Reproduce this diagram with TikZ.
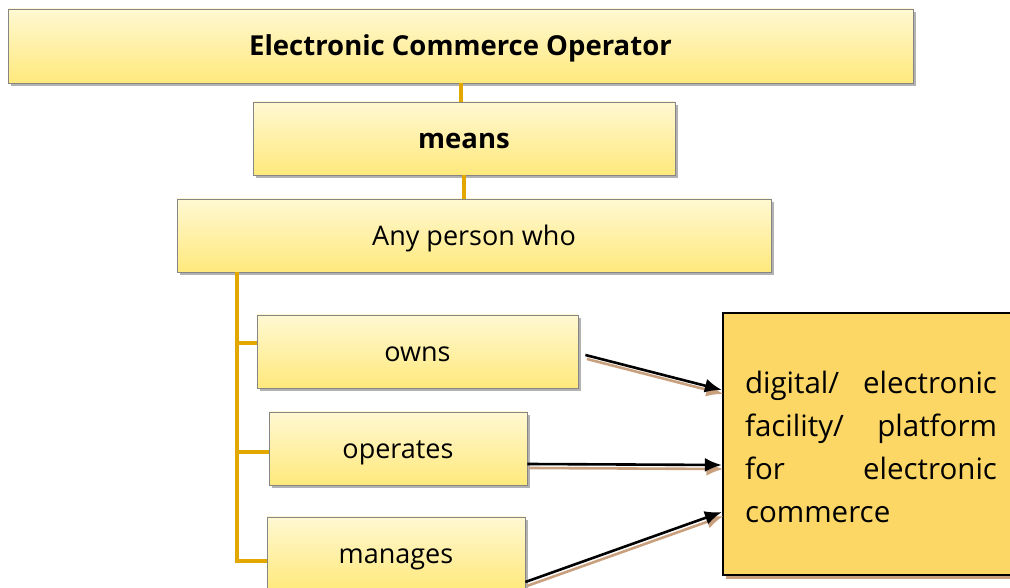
\documentclass[tikz,border=0pt]{standalone}
\usepackage{fontspec}
\setmainfont{Open Sans}
\usepackage{tikz}
\usetikzlibrary{arrows.meta}
\usetikzlibrary{positioning}
\usetikzlibrary{shadows}
\definecolor{boxtop}{HTML}{FFF8D2}
\definecolor{boxbottom}{HTML}{FFE97C}
\definecolor{boxline}{HTML}{858585}
\definecolor{trunkgold}{HTML}{E3A800}
\definecolor{platformfill}{HTML}{FDD766}
\definecolor{shadowtan}{HTML}{C9A07E}

\begin{document}
\begin{tikzpicture}[x=1pt,y=1pt]

\tikzstyle{term}=[draw=boxline, line width=0.8pt, top color=boxtop, bottom color=boxbottom, inner sep=0pt, text height=20pt, text depth=0pt, font=\fontsize{27}{32}\selectfont, drop shadow={shadow xshift=2.5pt, shadow yshift=-3pt, fill=black, opacity=0.3}]
\tikzstyle{trunk}=[draw=trunkgold, line width=4pt]
\tikzstyle{line}=[draw, line width=2.6pt, -{Latex[length=17pt,width=14pt]}]
\tikzstyle{lineshadow}=[line, draw=shadowtan]

\useasboundingbox (0,0) rectangle (1010,588);

\node[term, minimum width=905, minimum height=74, font=\fontsize{27.5}{32}\selectfont\bfseries] (title) at (460.5,542) {Electronic Commerce Operator};
\node[term, minimum width=422, minimum height=73, font=\fontsize{27.5}{32}\selectfont\bfseries] (means) at (464,449.5) {means};
\node[term, minimum width=594, minimum height=73] (anyone) at (474,352.5) {Any person who};

\node[term, minimum width=321, minimum height=73] (owns) at (417.5,236.5) {owns};
\node[term, minimum width=258, minimum height=73] (operates) at (398,139.5) {operates};
\node[term, minimum width=258, minimum height=73] (manages) at (396,34.5) {manages};

\node[draw=black, line width=2.2pt, fill=platformfill, minimum height=262, text width=252pt, inner xsep=22pt, align=justify, font=\fontsize{29.5}{43}\selectfont, drop shadow={shadow xshift=3pt, shadow yshift=-4pt, fill=shadowtan, opacity=1}] (platform) at (871,144) {\rule{0pt}{28pt}digital/ electronic\linebreak facility/ platform\linebreak for electronic\linebreak commerce};

% tree
\coordinate (trunkx) at (237,0);
\coordinate (ownsin) at ([yshift=8.5pt]owns.west);
\coordinate (operatesin) at ([yshift=-3.5pt]operates.west);
\coordinate (managesin) at ([yshift=-8pt]manages.west);

\path[trunk] (title.south) -- (title.south |- means.north);
\path[trunk] (means.south) -- (means.south |- anyone.north);
\path[trunk] (anyone.south -| trunkx) |- (managesin);
\path[trunk] (trunkx |- ownsin) -- (ownsin);
\path[trunk] (trunkx |- operatesin) -- (operatesin);

% arrows to platform
\coordinate (ownsout) at ([shift={(7pt,-3.5pt)}]owns.east);
\coordinate (operatesout) at ([yshift=-15.5pt]operates.east);
\coordinate (managesout) at ([yshift=-28.5pt]manages.east);
\coordinate (ownsend) at ([yshift=54pt]platform.west);
\coordinate (operatesend) at ([yshift=-21pt]platform.west);
\coordinate (managesend) at ([yshift=-68pt]platform.west);

\path[lineshadow] ([shift={(1.5pt,-4pt)}]ownsout) -- ([shift={(1.5pt,-4pt)}]ownsend);
\path[lineshadow] ([shift={(1.5pt,-4pt)}]operatesout) -- ([shift={(1.5pt,-4pt)}]operatesend);
\path[lineshadow] ([shift={(1.5pt,-4pt)}]managesout) -- ([shift={(1.5pt,-4pt)}]managesend);

\path[line] (ownsout) -- (ownsend);
\path[line] (operatesout) -- (operatesend);
\path[line] (managesout) -- (managesend);

\end{tikzpicture}
\end{document}
